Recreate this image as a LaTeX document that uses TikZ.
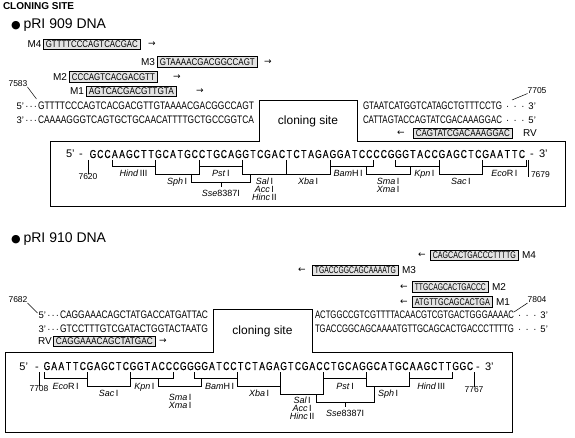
\documentclass[tikz,border=0pt]{standalone}
\usepackage{fontspec}
\setmainfont{Liberation Sans}
\newfontfamily\dvsfont{DejaVu Sans}
\newfontfamily\seqfont{Liberation Sans}[FakeBold=0.5]
\usepackage{graphicx}
\tikzset{
  txt/.style={inner sep=0pt,outer sep=0pt},
  rowseq/.style={txt,anchor=base west},
  rowend/.style={txt,font=\fontsize{9.5}{10}\selectfont},
  primer/.style={draw=black,fill=gray!22,line width=0.7pt,inner sep=0pt,minimum height=10.5pt,anchor=west},
  outline/.style={draw=black,line width=0.8pt},
  bracket/.style={draw=black,line width=0.6pt},
  leader/.style={draw=black,line width=0.5pt},
  boxlet/.style={txt,anchor=base,font=\seqfont\fontsize{11.5}{12}\selectfont},
  boxend/.style={txt,anchor=base,font=\fontsize{11}{12}\selectfont},
  sitelab/.style={txt,anchor=base,font=\fontsize{9}{9}\selectfont},
  numlab/.style={txt,font=\fontsize{8.5}{9}\selectfont},
  mlab/.style={txt,font=\fontsize{10}{10}\selectfont},
  arr/.style={txt,font=\dvsfont\fontsize{9}{9}\selectfont},
  head/.style={txt,anchor=base west,font=\fontsize{14}{14}\selectfont},
}
\newcommand{\fitseq}[3]{\resizebox{#1pt}{#2pt}{#3}}
\newcommand{\rsite}[7]{\draw[bracket] ({#1+#2*#3},#6) -- ({#1+#2*#3},#5) -- ({#1+#2*#4},#5) -- ({#1+#2*#4},#7);}
\newcommand{\rlab}[7]{\node[sitelab] (#1) at ({#2+#3*(#4+#5)/2},#6) {#7};}
\newcommand{\lmdots}{·\kern1pt·\kern1pt·}
\newcommand{\rmdots}{\kern4pt·\kern4.5pt·\kern4.5pt·\kern4pt}
\begin{document}
\begin{tikzpicture}[x=1pt,y=-1pt]
\fill[white] (0,0) rectangle (575,438);
\useasboundingbox (0,0) rectangle (575,438);

% ================= pRI 909 =================
\node[txt,anchor=base west,font=\bfseries\fontsize{10}{10}\selectfont] (title) at (3,10) {CLONING SITE};
\node[head] (h909) at (11,28.5) {{\dvsfont\fontsize{11}{11}\selectfont ●}\hspace{3pt}pRI 909 DNA};

\node[mlab,anchor=east] (m4l) at (41.5,44.5) {M4};
\node[primer,minimum width=97pt] (m4b) at (43,44.5) {\fitseq{92}{6.8}{GTTTTCCCAGTCACGAC}};
\node[arr] (m4a) at (152,44.5) {→};
\node[mlab,anchor=east] (m3l) at (155,62) {M3};
\node[primer,minimum width=100pt] (m3b) at (157,62) {\fitseq{95}{6.8}{GTAAAACGACGGCCAGT}};
\node[arr] (m3a) at (268,62) {→};
\node[mlab,anchor=east] (m2l) at (67,77) {M2};
\node[primer,minimum width=88pt] (m2b) at (69,77) {\fitseq{83}{6.8}{CCCAGTCACGACGTT}};
\node[arr] (m2a) at (177,77) {→};
\node[mlab,anchor=east] (m1l) at (84,91.5) {M1};
\node[primer,minimum width=90pt] (m1b) at (86,91.5) {\fitseq{85}{6.8}{AGTCACGACGTTGTA}};
\node[arr] (m1a) at (200,91.5) {→};

\node[numlab] (n7583) at (18,84) {7583};
\coordinate (c7583) at (36.5,99);
\draw[leader] (n7583.south east) -- (c7583);

\node[rowend,anchor=base east] (p5a) at (37,109.5) {5'\kern1.5pt\lmdots};
\node[rowseq] (s5a) at (38,109.5) {\fitseq{216}{7.6}{GTTTTCCCAGTCACGACGTTGTAAAACGACGGCCAGT}};
\node[rowend,anchor=base east] (p3a) at (37,123.5) {3'\kern1.5pt\lmdots};
\node[rowseq] (s3a) at (38,123.5) {\fitseq{216}{7.6}{CAAAAGGGTCAGTGCTGCAACATTTTGCTGCCGGTCA}};

\node[rowseq] (s5b) at (363,109.5) {\fitseq{139}{7.6}{GTAATCATGGTCATAGCTGTTTCCTG}};
\node[rowend,anchor=base west] (e5b) at (502,109.5) {\rmdots 3'};
\node[rowseq] (s3b) at (363,123.5) {\fitseq{139}{7.6}{CATTAGTACCAGTATCGACAAAGGAC}};
\node[rowend,anchor=base west] (e3b) at (502,123.5) {\rmdots 5'};

\node[numlab] (n7705) at (537,90.5) {7705};
\coordinate (c7705) at (512,100);
\draw[leader] (c7705) -- (n7705.south west);

\node[arr] (rva) at (401,133.5) {←};
\node[primer,minimum width=99pt] (rvb) at (413,133.5) {\fitseq{94}{6.8}{CAGTATCGACAAAGGAC}};
\node[mlab,anchor=west] (rvl) at (523,133.5) {RV};

\draw[outline] (50,141) -- (259,141) -- (259,100) -- (357,100) -- (357,141) -- (565,141) -- (565,206) -- (50,206) -- cycle;
\node[txt,anchor=base,font=\fontsize{12}{12}\selectfont] (cs909) at (308,125) {cloning site};

\node[boxend,anchor=base west] (q909s) at (66,158) {5'};
\node[boxend] (q909d) at (81,158) {-};
\foreach \ch [count=\i from 0] in {G,C,C,A,A,G,C,T,T,G,C,A,T,G,C,C,T,G,C,A,G,G,T,C,G,A,C,T,C,T,A,G,A,G,G,A,T,C,C,C,C,G,G,G,T,A,C,C,G,A,G,C,T,C,G,A,A,T,T,C}
  \node[boxlet] (q909-\i) at ({90+7.27*\i+3},158) {\scalebox{0.74}[1]{\ch}};
\node[boxend] (q909e) at (532,158) {-};
\node[boxend,anchor=base west] (q909t) at (539,158) {3'};

\rsite{90}{7.27}{3}{9}{166.5}{160}{160}
\rsite{90}{7.27}{9}{15}{174}{160}{160}
\rsite{90}{7.27}{15}{21}{166.5}{160}{160}
\rsite{90}{7.27}{14}{22}{182}{174}{174}
\rsite{90}{7.27}{21}{27}{174}{160}{160}
\rsite{90}{7.27}{27}{33}{174}{160}{160}
\rsite{90}{7.27}{33}{39}{166.5}{160}{160}
\rsite{90}{7.27}{38}{44}{174}{166.5}{166.5}
\rsite{90}{7.27}{42}{48}{166.5}{160}{160}
\rsite{90}{7.27}{48}{54}{174}{160}{160}
\rsite{90}{7.27}{54}{60}{166.5}{160}{160}
\draw[bracket] ({90+7.27*18},182) -- ({90+7.27*18},187);

\rlab{lHind9}{90}{7.27}{3}{9}{177}{\textit{Hind}\,III}
\rlab{lSph9}{90}{7.27}{9}{15}{184.5}{\textit{Sph}\,I}
\rlab{lPst9}{90}{7.27}{15}{21}{177}{\textit{Pst}\,I}
\rlab{lSse9}{90}{7.27}{14}{22}{196.5}{\textit{Sse}8387I}
\rlab{lSal9}{90}{7.27}{21}{27}{184.5}{\textit{Sal}\,I}
\rlab{lAcc9}{90}{7.27}{21}{27}{192.5}{\textit{Acc}\,I}
\rlab{lHinc9}{90}{7.27}{21}{27}{200.5}{\textit{Hinc}\,II}
\rlab{lXba9}{90}{7.27}{27}{33}{184.5}{\textit{Xba}\,I}
\rlab{lBam9}{90}{7.27}{33}{38}{177}{\textit{Bam}H\,I}
\rlab{lSma9}{90}{7.27}{38}{44}{185}{\textit{Sma}\,I}
\rlab{lXma9}{90}{7.27}{38}{44}{193}{\textit{Xma}\,I}
\rlab{lKpn9}{90}{7.27}{44}{48}{177}{\textit{Kpn}\,I}
\rlab{lSac9}{90}{7.27}{48}{54}{184.5}{\textit{Sac}\,I}
\rlab{lEco9}{90}{7.27}{54}{60}{177}{\textit{Eco}R\,I}

\coordinate (t7620) at (88,160);
\node[numlab,anchor=north] (n7620) at (88,174) {7620};
\draw[bracket] (t7620) -- (n7620.north);
\coordinate (t7679) at (528.5,160);
\coordinate (b7679) at (528.5,177);
\draw[bracket] (t7679) -- (b7679);
\node[numlab,anchor=base west] (n7679) at (531,177.5) {7679};

% ================= pRI 910 =================
\node[head] (h910) at (11,243) {{\dvsfont\fontsize{11}{11}\selectfont ●}\hspace{3pt}pRI 910 DNA};

\node[arr] (n4a) at (422,255.5) {←};
\node[primer,minimum width=88pt] (n4b) at (430,255.5) {\fitseq{83}{6.8}{CAGCACTGACCCTTTTG}};
\node[mlab,anchor=west] (n4l) at (522,255.5) {M4};
\node[arr] (n3a) at (302,270.5) {←};
\node[primer,minimum width=86pt] (n3b) at (312,270.5) {\fitseq{81}{6.8}{TGACCGGCAGCAAAATG}};
\node[mlab,anchor=west] (n3l) at (402,270.5) {M3};
\node[arr] (n2a) at (404,287) {←};
\node[primer,minimum width=76pt] (n2b) at (412,287) {\fitseq{71}{6.8}{TTGCAGCACTGACCC}};
\node[mlab,anchor=west] (n2l) at (492,287) {M2};
\node[arr] (n1a) at (404,302) {←};
\node[primer,minimum width=80pt] (n1b) at (412,302) {\fitseq{75}{6.8}{ATGTTGCAGCACTGA}};
\node[mlab,anchor=west] (n1l) at (496,302) {M1};

\node[numlab] (n7804) at (537,300) {7804};
\coordinate (c7804) at (514,312);
\draw[leader] (c7804) -- (n7804.south west);

\node[rowseq] (t5b) at (315,318) {\fitseq{199}{7.6}{ACTGGCCGTCGTTTTACAACGTCGTGACTGGGAAAAC}};
\node[rowend,anchor=base west] (f5b) at (514,318) {\rmdots 3'};
\node[rowseq] (t3b) at (315,332) {\fitseq{199}{7.6}{TGACCGGCAGCAAAATGTTGCAGCACTGACCCTTTTG}};
\node[rowend,anchor=base west] (f3b) at (514,332) {\rmdots 5'};

\node[numlab] (n7682) at (18,300) {7682};
\coordinate (c7682) at (37.5,313);
\draw[leader] (n7682.south east) -- (c7682);

\node[rowend,anchor=base east] (p5c) at (59,318) {5'\kern1.5pt\lmdots};
\node[rowseq] (t5c) at (60,318) {\fitseq{148}{7.6}{CAGGAAACAGCTATGACCATGATTAC}};
\node[rowend,anchor=base east] (p3c) at (59,332) {3'\kern1.5pt\lmdots};
\node[rowseq] (t3c) at (60,332) {\fitseq{148}{7.6}{GTCCTTTGTCGATACTGGTACTAATG}};

\node[mlab,anchor=west] (rv2l) at (38,341.5) {RV};
\node[primer,minimum width=102pt] (rv2b) at (53,341.5) {\fitseq{97}{6.8}{CAGGAAACAGCTATGAC}};
\node[arr] (rv2a) at (163,341.5) {→};

\draw[outline] (5,352) -- (213,352) -- (213,309) -- (312,309) -- (312,352) -- (512,352) -- (512,432) -- (5,432) -- cycle;
\node[txt,anchor=base,font=\fontsize{12}{12}\selectfont] (cs910) at (262.5,334) {cloning site};

\node[boxend,anchor=base west] (q910s) at (19.5,370) {5'};
\node[boxend] (q910d) at (37,370) {-};
\foreach \ch [count=\i from 0] in {G,A,A,T,T,C,G,A,G,C,T,C,G,G,T,A,C,C,C,G,G,G,G,A,T,C,C,T,C,T,A,G,A,G,T,C,G,A,C,C,T,G,C,A,G,G,C,A,T,G,C,A,A,G,C,T,T,G,G,C}
  \node[boxlet] (q910-\i) at ({44+7.17*\i+3},370) {\scalebox{0.74}[1]{\ch}};
\node[boxend] (q910e) at (478,370) {-};
\node[boxend,anchor=base west] (q910t) at (485,370) {3'};

\rsite{44}{7.17}{0}{6}{378.5}{372}{372}
\rsite{44}{7.17}{6}{12}{386}{372}{372}
\rsite{44}{7.17}{12}{18}{378.5}{372}{372}
\rsite{44}{7.17}{16}{22}{386}{378.5}{378.5}
\rsite{44}{7.17}{21}{27}{378.5}{372}{372}
\rsite{44}{7.17}{27}{33}{386}{372}{372}
\rsite{44}{7.17}{33}{39}{394}{372}{372}
\rsite{44}{7.17}{39}{45}{378.5}{372}{372}
\rsite{44}{7.17}{38}{46}{402}{394}{386}
\rsite{44}{7.17}{45}{51}{386}{372}{372}
\rsite{44}{7.17}{51}{57}{378.5}{372}{372}
\draw[bracket] ({44+7.17*42},402) -- ({44+7.17*42},407);

\rlab{lEco0}{44}{7.17}{0}{6}{389}{\textit{Eco}R\,I}
\rlab{lSac0}{44}{7.17}{6}{12}{396.5}{\textit{Sac}\,I}
\rlab{lKpn0}{44}{7.17}{12}{16}{389}{\textit{Kpn}\,I}
\rlab{lSma0}{44}{7.17}{16}{22}{400}{\textit{Sma}\,I}
\rlab{lXma0}{44}{7.17}{16}{22}{408}{\textit{Xma}\,I}
\rlab{lBam0}{44}{7.17}{22}{27}{389}{\textit{Bam}H\,I}
\rlab{lXba0}{44}{7.17}{27}{33}{396.5}{\textit{Xba}\,I}
\rlab{lSal0}{44}{7.17}{33}{39}{403.5}{\textit{Sal}\,I}
\rlab{lAcc0}{44}{7.17}{33}{39}{411.5}{\textit{Acc}\,I}
\rlab{lHinc0}{44}{7.17}{33}{39}{419.5}{\textit{Hinc}\,II}
\rlab{lPst0}{44}{7.17}{39}{45}{389}{\textit{Pst}\,I}
\rlab{lSse0}{44}{7.17}{38}{46}{416.5}{\textit{Sse}8387I}
\rlab{lSph0}{44}{7.17}{45}{51}{396.5}{\textit{Sph}\,I}
\rlab{lHind0}{44}{7.17}{51}{57}{389}{\textit{Hind}\,III}

\coordinate (t7708) at (39,372);
\node[numlab,anchor=north] (n7708) at (39,385.5) {7708};
\draw[bracket] (t7708) -- (n7708.north);
\coordinate (t7767) at (474,372);
\node[numlab,anchor=north] (n7767) at (474,386.5) {7767};
\draw[bracket] (t7767) -- (n7767.north);
\end{tikzpicture}
\end{document}
